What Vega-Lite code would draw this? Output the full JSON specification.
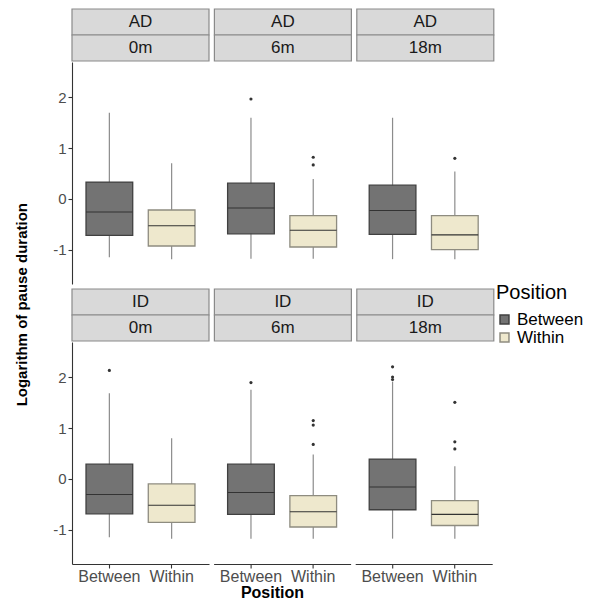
{
  "$schema": "https://vega.github.io/schema/vega-lite/v6.json",
  "padding": {"left": 14, "top": 8, "right": 0, "bottom": 0},
  "title": {"text": "Logarithm of pause duration", "orient": "left", "anchor": "middle", "fontSize": 15, "fontWeight": "bold", "font": "Liberation Sans", "color": "#000000", "offset": 23},
  "config": {
    "view": {"stroke": null},
    "font": "Liberation Sans",
    "axis": {"grid": false, "domainColor": "#333333", "tickColor": "#333333", "labelColor": "#4d4d4d", "labelFont": "Liberation Sans", "titleFont": "Liberation Sans", "domainWidth": 1.1, "tickWidth": 1.1},
    "legend": {"titleFont": "Liberation Sans", "labelFont": "Liberation Sans"}
  },
  "datasets": {
    "strips": [
      {"Group": "AD", "Time": "0m", "Level": "top", "Label": "AD"},
      {"Group": "AD", "Time": "0m", "Level": "bottom", "Label": "0m"},
      {"Group": "AD", "Time": "6m", "Level": "top", "Label": "AD"},
      {"Group": "AD", "Time": "6m", "Level": "bottom", "Label": "6m"},
      {"Group": "AD", "Time": "18m", "Level": "top", "Label": "AD"},
      {"Group": "AD", "Time": "18m", "Level": "bottom", "Label": "18m"},
      {"Group": "ID", "Time": "0m", "Level": "top", "Label": "ID"},
      {"Group": "ID", "Time": "0m", "Level": "bottom", "Label": "0m"},
      {"Group": "ID", "Time": "6m", "Level": "top", "Label": "ID"},
      {"Group": "ID", "Time": "6m", "Level": "bottom", "Label": "6m"},
      {"Group": "ID", "Time": "18m", "Level": "top", "Label": "ID"},
      {"Group": "ID", "Time": "18m", "Level": "bottom", "Label": "18m"}
    ],
    "stats": [
      {"Group": "AD", "Time": "0m", "Position": "Between", "lower": -1.15, "q1": -0.72, "median": -0.26, "q3": 0.33, "upper": 1.70},
      {"Group": "AD", "Time": "0m", "Position": "Within", "lower": -1.19, "q1": -0.93, "median": -0.53, "q3": -0.22, "upper": 0.70},
      {"Group": "AD", "Time": "6m", "Position": "Between", "lower": -1.18, "q1": -0.69, "median": -0.18, "q3": 0.31, "upper": 1.60},
      {"Group": "AD", "Time": "6m", "Position": "Within", "lower": -1.18, "q1": -0.95, "median": -0.62, "q3": -0.33, "upper": 0.39},
      {"Group": "AD", "Time": "18m", "Position": "Between", "lower": -1.19, "q1": -0.70, "median": -0.23, "q3": 0.27, "upper": 1.60},
      {"Group": "AD", "Time": "18m", "Position": "Within", "lower": -1.19, "q1": -1.00, "median": -0.71, "q3": -0.33, "upper": 0.54},
      {"Group": "ID", "Time": "0m", "Position": "Between", "lower": -1.15, "q1": -0.69, "median": -0.31, "q3": 0.29, "upper": 1.69},
      {"Group": "ID", "Time": "0m", "Position": "Within", "lower": -1.18, "q1": -0.86, "median": -0.52, "q3": -0.10, "upper": 0.80},
      {"Group": "ID", "Time": "6m", "Position": "Between", "lower": -1.18, "q1": -0.70, "median": -0.27, "q3": 0.29, "upper": 1.76},
      {"Group": "ID", "Time": "6m", "Position": "Within", "lower": -1.18, "q1": -0.95, "median": -0.65, "q3": -0.33, "upper": 0.48},
      {"Group": "ID", "Time": "18m", "Position": "Between", "lower": -1.18, "q1": -0.61, "median": -0.16, "q3": 0.39, "upper": 1.92},
      {"Group": "ID", "Time": "18m", "Position": "Within", "lower": -1.18, "q1": -0.92, "median": -0.70, "q3": -0.43, "upper": 0.25},
      {"Group": "AD", "Time": "6m", "Position": "Between", "outlier": 1.97},
      {"Group": "AD", "Time": "6m", "Position": "Within", "outlier": 0.82},
      {"Group": "AD", "Time": "6m", "Position": "Within", "outlier": 0.67},
      {"Group": "AD", "Time": "18m", "Position": "Within", "outlier": 0.80},
      {"Group": "ID", "Time": "0m", "Position": "Between", "outlier": 2.14},
      {"Group": "ID", "Time": "6m", "Position": "Between", "outlier": 1.90},
      {"Group": "ID", "Time": "6m", "Position": "Within", "outlier": 1.15},
      {"Group": "ID", "Time": "6m", "Position": "Within", "outlier": 1.06},
      {"Group": "ID", "Time": "6m", "Position": "Within", "outlier": 0.68},
      {"Group": "ID", "Time": "18m", "Position": "Between", "outlier": 2.21},
      {"Group": "ID", "Time": "18m", "Position": "Between", "outlier": 2.01},
      {"Group": "ID", "Time": "18m", "Position": "Between", "outlier": 1.96},
      {"Group": "ID", "Time": "18m", "Position": "Within", "outlier": 1.51},
      {"Group": "ID", "Time": "18m", "Position": "Within", "outlier": 0.73},
      {"Group": "ID", "Time": "18m", "Position": "Within", "outlier": 0.59}
    ]
  },
  "spacing": 4,
  "vconcat": [
    {
      "spacing": 0,
      "vconcat": [
        {
          "data": {"name": "strips"},
          "transform": [{"filter": "datum.Group == 'AD'"}],
          "facet": {"column": {"field": "Time", "type": "nominal", "sort": ["0m", "6m", "18m"], "header": {"labels": false, "title": null}}},
          "spacing": 3.4,
          "spec": {
            "width": 137, "height": 52,
            "layer": [
              {"mark": {"type": "rect", "fill": "#d9d9d9", "stroke": "#8a8a8a", "strokeWidth": 1.2},
               "encoding": {"y": {"field": "Level", "type": "nominal", "sort": ["top", "bottom"], "scale": {"paddingInner": 0, "paddingOuter": 0}, "axis": null}}},
              {"mark": {"type": "text", "fontSize": 17, "font": "Liberation Sans", "color": "#1a1a1a"},
               "encoding": {"y": {"field": "Level", "type": "nominal", "sort": ["top", "bottom"], "axis": null}, "text": {"field": "Label"}}}
            ]
          }
        },
        {
          "data": {"name": "stats"},
          "transform": [{"filter": "datum.Group == 'AD'"}],
          "facet": {"column": {"field": "Time", "type": "nominal", "sort": ["0m", "6m", "18m"], "header": {"labels": false, "title": null}}},
          "spacing": 4.6,
          "spec": {
            "width": 137, "height": 222,
            "encoding": {
              "x": {"field": "Position", "type": "nominal", "scale": {"domain": ["Between", "Within"], "paddingInner": 0.25, "paddingOuter": 0.225}, "axis": null}
            },
            "layer": [
              {"transform": [{"filter": "isValid(datum.q1)"}],
               "mark": {"type": "rule", "color": "#8c8c8c", "strokeWidth": 1.2},
               "encoding": {"y": {"field": "lower", "type": "quantitative", "scale": {"domain": [-1.68, 2.70], "nice": false, "zero": false}, "axis": {"values": [-1, 0, 1, 2], "title": null, "tickSize": 4, "labelFontSize": 15, "labelPadding": 2, "labelExpr": "replace(datum.label, '−', '-')"}}, "y2": {"field": "upper"}}},
              {"transform": [{"filter": "isValid(datum.q1)"}],
               "mark": {"type": "bar", "strokeWidth": 1.3},
               "encoding": {"y": {"field": "q1", "type": "quantitative"}, "y2": {"field": "q3"},
                 "fill": {"field": "Position", "type": "nominal", "scale": {"domain": ["Between", "Within"], "range": ["#737373", "#EEE8CD"]}, "legend": {"title": "Position", "orient": "none", "legendX": 424, "legendY": 274, "titleFontSize": 20, "titleFontWeight": "normal", "titleColor": "#000000", "labelFontSize": 17, "labelColor": "#000000", "symbolType": "square", "symbolSize": 80, "rowPadding": 0, "titlePadding": 8, "labelOffset": 4}},
                 "stroke": {"field": "Position", "type": "nominal", "scale": {"domain": ["Between", "Within"], "range": ["#404040", "#8e8c80"]}, "legend": {"title": "Position", "orient": "none", "legendX": 424, "legendY": 274, "titleFontSize": 20, "titleFontWeight": "normal", "titleColor": "#000000", "labelFontSize": 17, "labelColor": "#000000", "symbolType": "square", "symbolSize": 80, "rowPadding": 0, "titlePadding": 8, "labelOffset": 4}}}},
              {"transform": [{"filter": "isValid(datum.q1)"}],
               "mark": {"type": "bar", "fillOpacity": 0, "stroke": "#333333", "strokeWidth": 1.1},
               "encoding": {"y": {"field": "median", "type": "quantitative"}, "y2": {"field": "median"}}},
              {"transform": [{"filter": "isValid(datum.outlier)"}],
               "mark": {"type": "circle", "color": "#333333", "opacity": 1, "size": 10},
               "encoding": {"y": {"field": "outlier", "type": "quantitative"}}}
            ]
          }
        }
      ]
    },
    {
      "spacing": 0,
      "vconcat": [
        {
          "data": {"name": "strips"},
          "transform": [{"filter": "datum.Group == 'ID'"}],
          "facet": {"column": {"field": "Time", "type": "nominal", "sort": ["0m", "6m", "18m"], "header": {"labels": false, "title": null}}},
          "spacing": 3.4,
          "spec": {
            "width": 137, "height": 52,
            "layer": [
              {"mark": {"type": "rect", "fill": "#d9d9d9", "stroke": "#8a8a8a", "strokeWidth": 1.2},
               "encoding": {"y": {"field": "Level", "type": "nominal", "sort": ["top", "bottom"], "scale": {"paddingInner": 0, "paddingOuter": 0}, "axis": null}}},
              {"mark": {"type": "text", "fontSize": 17, "font": "Liberation Sans", "color": "#1a1a1a"},
               "encoding": {"y": {"field": "Level", "type": "nominal", "sort": ["top", "bottom"], "axis": null}, "text": {"field": "Label"}}}
            ]
          }
        },
        {
          "data": {"name": "stats"},
          "transform": [{"filter": "datum.Group == 'ID'"}],
          "title": {"text": "Position", "orient": "bottom", "anchor": "middle", "fontSize": 16, "fontWeight": "bold", "font": "Liberation Sans", "color": "#000000", "offset": 1},
          "facet": {"column": {"field": "Time", "type": "nominal", "sort": ["0m", "6m", "18m"], "header": {"labels": false, "title": null}}},
          "spacing": 4.6,
          "spec": {
            "width": 137, "height": 222,
            "encoding": {
              "x": {"field": "Position", "type": "nominal", "scale": {"domain": ["Between", "Within"], "paddingInner": 0.25, "paddingOuter": 0.225}, "axis": {"title": null, "labelAngle": 0, "labelFontSize": 16, "tickSize": 4, "labelPadding": 0}}
            },
            "layer": [
              {"transform": [{"filter": "isValid(datum.q1)"}],
               "mark": {"type": "rule", "color": "#8c8c8c", "strokeWidth": 1.2},
               "encoding": {"y": {"field": "lower", "type": "quantitative", "scale": {"domain": [-1.68, 2.70], "nice": false, "zero": false}, "axis": {"values": [-1, 0, 1, 2], "title": null, "tickSize": 4, "labelFontSize": 15, "labelPadding": 2, "labelExpr": "replace(datum.label, '−', '-')"}}, "y2": {"field": "upper"}}},
              {"transform": [{"filter": "isValid(datum.q1)"}],
               "mark": {"type": "bar", "strokeWidth": 1.3},
               "encoding": {"y": {"field": "q1", "type": "quantitative"}, "y2": {"field": "q3"},
                 "fill": {"field": "Position", "type": "nominal", "scale": {"domain": ["Between", "Within"], "range": ["#737373", "#EEE8CD"]}, "legend": {"title": "Position", "orient": "none", "legendX": 424, "legendY": 274, "titleFontSize": 20, "titleFontWeight": "normal", "titleColor": "#000000", "labelFontSize": 17, "labelColor": "#000000", "symbolType": "square", "symbolSize": 80, "rowPadding": 0, "titlePadding": 8, "labelOffset": 4}},
                 "stroke": {"field": "Position", "type": "nominal", "scale": {"domain": ["Between", "Within"], "range": ["#404040", "#8e8c80"]}, "legend": {"title": "Position", "orient": "none", "legendX": 424, "legendY": 274, "titleFontSize": 20, "titleFontWeight": "normal", "titleColor": "#000000", "labelFontSize": 17, "labelColor": "#000000", "symbolType": "square", "symbolSize": 80, "rowPadding": 0, "titlePadding": 8, "labelOffset": 4}}}},
              {"transform": [{"filter": "isValid(datum.q1)"}],
               "mark": {"type": "bar", "fillOpacity": 0, "stroke": "#333333", "strokeWidth": 1.1},
               "encoding": {"y": {"field": "median", "type": "quantitative"}, "y2": {"field": "median"}}},
              {"transform": [{"filter": "isValid(datum.outlier)"}],
               "mark": {"type": "circle", "color": "#333333", "opacity": 1, "size": 10},
               "encoding": {"y": {"field": "outlier", "type": "quantitative"}}}
            ]
          }
        }
      ]
    }
  ]
}
